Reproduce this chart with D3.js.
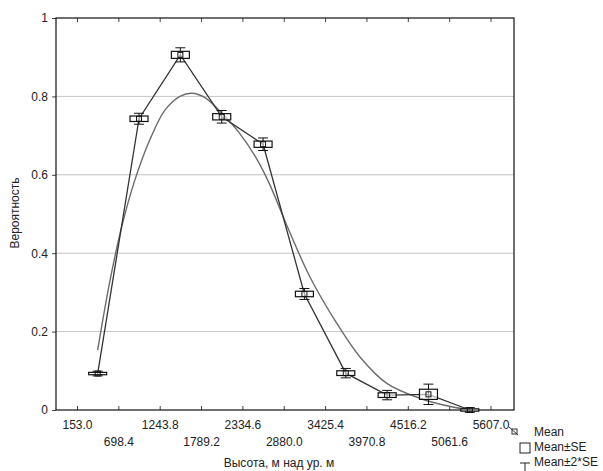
<!DOCTYPE html>
<html>
<head>
<meta charset="utf-8">
<script src="https://cdn.jsdelivr.net/npm/d3@7"></script>
<style>
  body { margin: 0; background: #fff; }
  svg text { font-family: "Liberation Sans", Arial, sans-serif; fill: #222; }
</style>
</head>
<body>
<svg id="chart" width="603" height="471"></svg>
<script>
// x ticks (class bounds) and their labels
const tickValues = [153.0, 698.4, 1243.8, 1789.2, 2334.6, 2880.0, 3425.4, 3970.8, 4516.2, 5061.6, 5607.0];
const tickLabels = ["153.0", "698.4", "1243.8", "1789.2", "2334.6", "2880.0", "3425.4", "3970.8", "4516.2", "5061.6", "5607.0"];
const yTicks = [0, 0.2, 0.4, 0.6, 0.8, 1];

// class midpoints, mean probability and standard error
const classMid = [425.7, 971.1, 1516.5, 2061.9, 2607.3, 3152.7, 3698.1, 4243.5, 4788.9, 5334.3];
const meanValues = [0.093, 0.743, 0.906, 0.748, 0.678, 0.296, 0.094, 0.038, 0.040, 0.0];
const seValues = [0.003, 0.007, 0.009, 0.008, 0.008, 0.007, 0.006, 0.006, 0.013, 0.003];

// fitted smooth curve
const curveX = [425.7, 588, 746, 917, 1115, 1313, 1511, 1669, 1840, 2064, 2301, 2525, 2684, 2934, 3224, 3580, 3883, 4239, 4674, 5003, 5334.3];
const curveY = [0.153, 0.33, 0.47, 0.587, 0.69, 0.765, 0.80, 0.808, 0.797, 0.757, 0.705, 0.64, 0.58, 0.465, 0.34, 0.221, 0.136, 0.068, 0.03, 0.012, 0.0];

const margin = {left: 56, top: 18, right: 89, bottom: 61};
const width = 603 - margin.left - margin.right;
const height = 471 - margin.top - margin.bottom;

const svg = d3.select("#chart");
const g = svg.append("g").attr("transform", "translate(" + margin.left + "," + margin.top + ")");

const x = d3.scaleLinear().domain([-124, 5917]).range([0, width]);
const y = d3.scaleLinear().domain([0, 1]).range([height, 0]);

// grid
g.append("g").selectAll("line")
  .data(yTicks.filter(d => d > 0 && d < 1))
  .enter().append("line")
    .attr("x1", 0).attr("x2", width)
    .attr("y1", d => y(d)).attr("y2", d => y(d))
    .style("stroke", "#c4c4c4").style("stroke-width", 1);

// y axis
const yAxis = g.append("g")
  .call(d3.axisLeft(y).tickValues(yTicks).tickFormat(d => d === 0 || d === 1 ? d3.format("d")(d) : d3.format(".1f")(d)).tickSize(4).tickPadding(4));
yAxis.select(".domain").remove();
yAxis.selectAll("text").style("font-size", "12px").style("fill", "#222");
yAxis.selectAll("line").style("stroke", "#444");

// x axis, ticks pointing inwards, labels staggered in two rows
const xAxis = g.append("g")
  .attr("transform", "translate(0," + height + ")")
  .call(d3.axisBottom(x).tickValues(tickValues).tickFormat((d, i) => tickLabels[i]).tickSize(-4).tickPadding(0));
xAxis.select(".domain").remove();
xAxis.selectAll("line").style("stroke", "#444");
xAxis.selectAll("text")
  .style("font-size", "12px").style("fill", "#222")
  .attr("dy", null)
  .attr("y", (d, i) => i % 2 === 0 ? 19 : 36);

// top ticks
g.append("g")
  .call(d3.axisTop(x).tickValues(tickValues).tickFormat("").tickSize(-4))
  .call(a => a.select(".domain").remove())
  .selectAll("line").style("stroke", "#444");

// frame
g.append("rect")
  .attr("width", width).attr("height", height)
  .style("fill", "none").style("stroke", "#111").style("stroke-width", 1.2);

// fitted curve
g.append("path")
  .datum(curveX.map((d, i) => [d, curveY[i]]))
  .attr("d", d3.line().x(d => x(d[0])).y(d => y(d[1])).curve(d3.curveCatmullRom.alpha(0.5)))
  .style("fill", "none").style("stroke", "#6b6b6b").style("stroke-width", 1.4);

// mean line
g.append("path")
  .datum(classMid.map((d, i) => [d, meanValues[i]]))
  .attr("d", d3.line().x(d => x(d[0])).y(d => y(d[1])))
  .style("fill", "none").style("stroke", "#333").style("stroke-width", 1.3);

// box + whiskers
const boxW = 18, capW = 10;
const marks = g.append("g").selectAll("g")
  .data(classMid.map((d, i) => ({x: d, m: meanValues[i], se: seValues[i]})))
  .enter().append("g");

marks.append("line")
  .attr("x1", d => x(d.x)).attr("x2", d => x(d.x))
  .attr("y1", d => y(d.m + 2 * d.se)).attr("y2", d => y(d.m - 2 * d.se))
  .style("stroke", "#111");
marks.append("line")
  .attr("x1", d => x(d.x) - capW / 2).attr("x2", d => x(d.x) + capW / 2)
  .attr("y1", d => y(d.m + 2 * d.se)).attr("y2", d => y(d.m + 2 * d.se))
  .style("stroke", "#111");
marks.append("line")
  .attr("x1", d => x(d.x) - capW / 2).attr("x2", d => x(d.x) + capW / 2)
  .attr("y1", d => y(d.m - 2 * d.se)).attr("y2", d => y(d.m - 2 * d.se))
  .style("stroke", "#111");
marks.append("rect")
  .attr("x", d => x(d.x) - boxW / 2).attr("width", boxW)
  .attr("y", d => y(d.m + d.se)).attr("height", d => y(d.m - d.se) - y(d.m + d.se))
  .style("fill", "#fff").style("fill-opacity", 0.6).style("stroke", "#111").style("stroke-width", 1.2);
marks.append("rect")
  .attr("x", d => x(d.x) - 2.5).attr("width", 5)
  .attr("y", d => y(d.m) - 2.5).attr("height", 5)
  .style("fill", "none").style("stroke", "#111");

// axis titles
svg.append("text")
  .attr("x", 279).attr("y", 467)
  .attr("text-anchor", "middle")
  .style("font-size", "12px")
  .text("Высота, м над ур. м");
svg.append("text")
  .attr("transform", "translate(19,213) rotate(-90)")
  .attr("text-anchor", "middle")
  .style("font-size", "12px")
  .text("Вероятность");

// legend
const leg = svg.append("g");
leg.append("line").attr("x1", 509).attr("y1", 427).attr("x2", 518).attr("y2", 435).style("stroke", "#333");
leg.append("rect").attr("x", 512).attr("y", 429).attr("width", 5).attr("height", 5).style("fill", "none").style("stroke", "#333");
leg.append("rect").attr("x", 520).attr("y", 443).attr("width", 10).attr("height", 10).style("fill", "none").style("stroke", "#222");
leg.append("line").attr("x1", 520).attr("y1", 463).attr("x2", 530).attr("y2", 463).style("stroke", "#222");
leg.append("line").attr("x1", 525).attr("y1", 463).attr("x2", 525).attr("y2", 477).style("stroke", "#222");
leg.append("line").attr("x1", 520).attr("y1", 477).attr("x2", 530).attr("y2", 477).style("stroke", "#222");
const legendLabels = ["Mean", "Mean±SE", "Mean±2*SE"];
leg.selectAll("text.lab").data(legendLabels).enter().append("text")
  .attr("class", "lab")
  .attr("x", 534).attr("y", (d, i) => 436 + i * 15)
  .style("font-size", "12px")
  .text(d => d);
</script>
</body>
</html>
